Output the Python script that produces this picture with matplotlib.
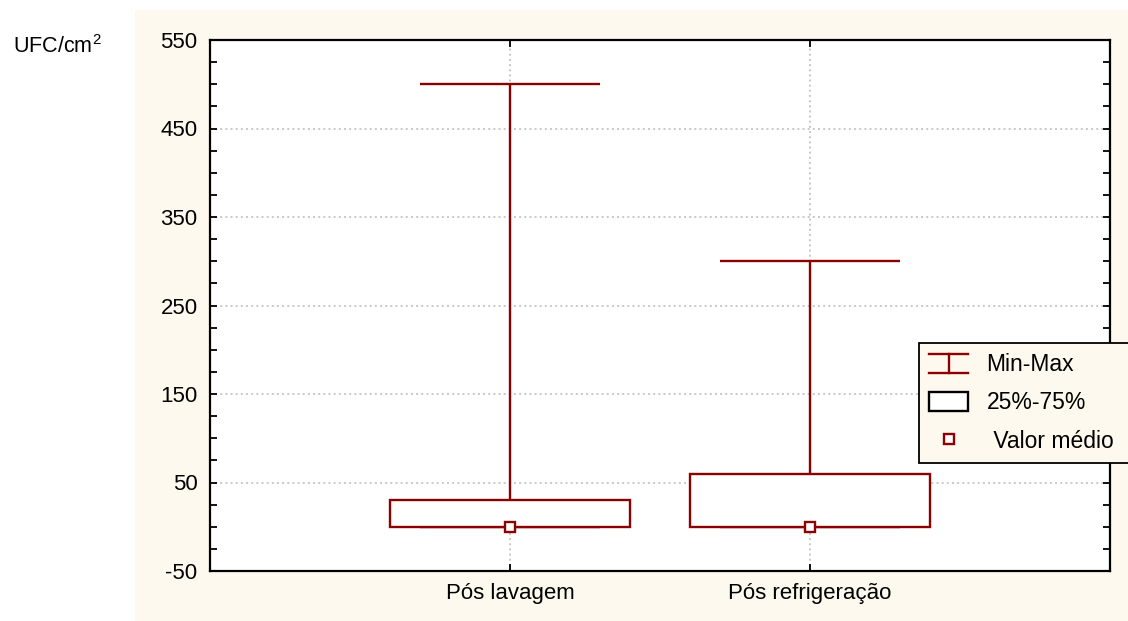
import numpy as np
import matplotlib
matplotlib.use("Agg")
import matplotlib.pyplot as plt
from matplotlib.patches import Rectangle
from matplotlib.lines import Line2D
from matplotlib.legend_handler import HandlerBase

plt.rcParams['font.family'] = ['Liberation Sans', 'DejaVu Sans']
plt.rcParams['axes.unicode_minus'] = False
plt.rcParams['mathtext.fontset'] = 'custom'
plt.rcParams['mathtext.rm'] = 'Liberation Sans'

categories = ["Pós lavagem", "Pós refrigeração"]
mins = [0, 0]
q25 = [0, 0]
q75 = [30, 60]
maxs = [500, 300]
means = [0, 0]
yticks = [-50, 50, 150, 250, 350, 450, 550]

dark_red = '#8B0000'
cream = '#FDF9EE'

fig = plt.figure(figsize=(11.28, 6.21), dpi=100)
bg = fig.add_axes([135/1128, 0, 1 - 135/1128, 1 - 10/621], zorder=-10)
bg.set_axis_off()
bg.add_patch(Rectangle((0, 0), 1, 1, transform=bg.transAxes, facecolor=cream,
                       edgecolor='none'))

ax = fig.add_axes([210/1128, 1 - 571/621, 900/1128, 531/621])
ax.set_facecolor('white')

x = np.arange(1, len(categories) + 1)
box_w = 0.8
cap_w = 0.6
for xi, lo, a, b, hi, m in zip(x, mins, q25, q75, maxs, means):
    ax.vlines(xi, b, hi, color=dark_red, lw=1.7, zorder=3)
    ax.vlines(xi, lo, a, color=dark_red, lw=1.7, zorder=3)
    ax.hlines([hi, lo], xi - cap_w/2, xi + cap_w/2, color=dark_red, lw=1.7, zorder=3)
    ax.add_patch(Rectangle((xi - box_w/2, a), box_w, b - a, facecolor='white',
                           edgecolor=dark_red, lw=1.7, zorder=4))
    ax.plot(xi, m, 's', ms=7.5, mfc='white', mec=dark_red, mew=1.7, zorder=5)

ax.set_xlim(0, 3)
ax.set_ylim(-50, 550)
ax.set_yticks(yticks)
ax.set_yticks(np.arange(-50, 551, 25), minor=True)
ax.set_xticks(x)
ax.set_xticklabels(categories)
ax.tick_params(axis='both', which='both', direction='in', labelsize=16,
               top=True, right=True, width=1.3, color='black')
ax.tick_params(axis='both', which='major', length=5, pad=9)
ax.tick_params(axis='y', which='minor', length=5)
ax.grid(True, which='major', color='#C8C8C8', linestyle=':', lw=1.4, zorder=1)
for s in ax.spines.values():
    s.set_linewidth(1.6)

fig.text(13/1128, 1 - 47/621, 'UFC/cm$^2$', fontsize=15.5, va='center', ha='left')


class MinMaxHandler(HandlerBase):
    def create_artists(self, legend, orig_handle, xdescent, ydescent, width,
                       height, fontsize, trans):
        x0, x1 = -xdescent, -xdescent + width
        y0, y1 = -ydescent, -ydescent + height
        xm = (x0 + x1) / 2
        arts = [Line2D([x0, x1], [y0, y0], color=dark_red, lw=1.7),
                Line2D([x0, x1], [y1, y1], color=dark_red, lw=1.7),
                Line2D([xm, xm], [y0, y1], color=dark_red, lw=1.7)]
        for a in arts:
            a.set_transform(trans)
        return arts


mm_handle = Line2D([], [], color=dark_red)
box_handle = Rectangle((0, 0), 1, 1, facecolor='white', edgecolor='black', lw=1.7)
mean_handle = Line2D([], [], marker='s', ls='none', ms=7.5, mfc='white',
                     mec=dark_red, mew=1.7)
leg = fig.legend([mm_handle, box_handle, mean_handle],
                 ['Min-Max', '25%-75%', ' Valor médio  '],
                 handler_map={mm_handle: MinMaxHandler()},
                 loc='upper left', bbox_to_anchor=(919/1128, 1 - 343/621),
                 frameon=True, fancybox=False, fontsize=16.5, handlelength=1.7,
                 handleheight=0.85, labelspacing=0.66, borderpad=0.45,
                 handletextpad=0.8, borderaxespad=0)
leg.get_frame().set_facecolor(cream)
leg.get_frame().set_edgecolor('black')
leg.get_frame().set_linewidth(1.3)
leg.get_frame().set_alpha(1)

fig.savefig('out.png', dpi=100)
